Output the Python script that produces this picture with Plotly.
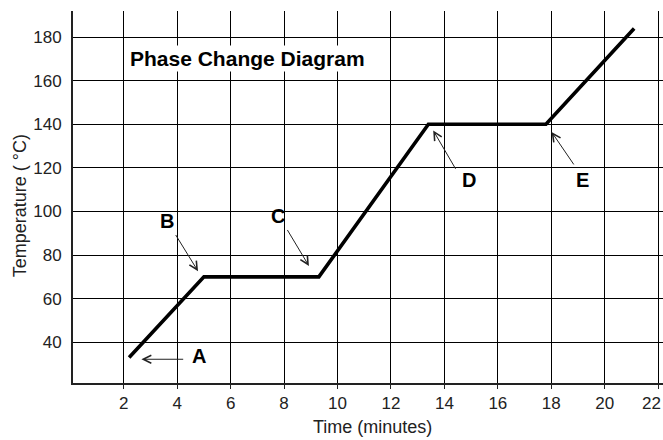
import plotly.graph_objects as go

# Data
time_min = [2.2, 5.0, 9.3, 13.4, 17.8, 21.1]
temp_c = [33, 70, 70, 140, 140, 184]

x_ticks = [2, 4, 6, 8, 10, 12, 14, 16, 18, 20, 22]
y_ticks = [40, 60, 80, 100, 120, 140, 160, 180]

point_labels = ["A", "B", "C", "D", "E"]
label_x = [4.81, 3.60, 7.79, 14.91, 19.16]
label_y = [33.7, 95.8, 97.9, 114.3, 114.3]
arrow_tail_x = [4.28, 3.91, 8.09, 14.45, 18.88]
arrow_tail_y = [32.2, 89.9, 92.2, 118.9, 120.9]
arrow_head_x = [2.66, 4.78, 8.93, 13.58, 18.01]
arrow_head_y = [32.2, 72.6, 75.0, 137.2, 136.5]

chart_title = "Phase Change Diagram"
x_title = "Time (minutes)"
y_title = "Temperature ( °C)"

FONT = "Liberation Sans, Arial, sans-serif"

fig = go.Figure()
fig.add_trace(go.Scatter(
    x=time_min, y=temp_c, mode="lines",
    line=dict(color="black", width=3.6),
    hoverinfo="skip", showlegend=False,
))

annotations = []
# title box
annotations.append(dict(
    x=6.63, y=170.1, xref="x", yref="y", text="<b>" + chart_title + "</b>",
    showarrow=False, font=dict(family=FONT, size=21, color="black"),
    bgcolor="white", borderpad=1, xanchor="center", yanchor="middle",
))
for lab, lx, ly in zip(point_labels, label_x, label_y):
    annotations.append(dict(
        x=lx, y=ly, xref="x", yref="y", text="<b>" + lab + "</b>",
        showarrow=False, font=dict(family=FONT, size=20, color="black"),
        xanchor="center", yanchor="middle",
    ))
for tx, ty, hx, hy in zip(arrow_tail_x, arrow_tail_y, arrow_head_x, arrow_head_y):
    annotations.append(dict(
        x=hx, y=hy, xref="x", yref="y", ax=tx, ay=ty, axref="x", ayref="y",
        text="", showarrow=True, arrowhead=5, arrowsize=1.6, arrowwidth=1,
        arrowcolor="#222", standoff=0, startstandoff=0,
    ))
# last x tick label sits at the right edge: keep it fully inside the page
annotations.append(dict(
    x=1.0, y=-0.0546, xref="paper", yref="paper", text=str(x_ticks[-1]),
    showarrow=False, font=dict(family=FONT, size=17, color="#222"),
    xanchor="right", yanchor="middle",
))
# axis titles
annotations.append(dict(
    x=11.3, y=-0.118, xref="x", yref="paper", text=x_title, showarrow=False,
    font=dict(family=FONT, size=18, color="#222"), xanchor="center", yanchor="middle",
))
annotations.append(dict(
    x=-0.0898, y=102.4, xref="paper", yref="y", text=y_title, showarrow=False,
    textangle=-90, font=dict(family=FONT, size=18, color="#222"),
    xanchor="center", yanchor="middle",
))

fig.update_layout(
    width=663, height=440,
    margin=dict(l=73, r=0, t=11, b=57, autoexpand=False),
    paper_bgcolor="white", plot_bgcolor="white",
    font=dict(family=FONT, size=17, color="#222"),
    annotations=annotations,
    showlegend=False,
)
fig.update_xaxes(
    range=[0.1, 22.18], tickvals=x_ticks,
    ticktext=[str(v) for v in x_ticks[:-1]] + [""],
    showgrid=True, gridcolor="black", gridwidth=1,
    showline=True, linecolor="#222", linewidth=2,
    ticks="outside", ticklen=4, tickwidth=1, tickcolor="#222",
    ticklabeloverflow="allow", automargin=False,
    zeroline=False, tickfont=dict(family=FONT, size=17, color="#222"),
)
fig.update_yaxes(
    range=[21.3, 192], tickvals=y_ticks, ticktext=[str(v) for v in y_ticks],
    showgrid=True, gridcolor="black", gridwidth=1,
    showline=True, linecolor="#222", linewidth=2,
    ticks="", ticklabelstandoff=6, automargin=False,
    zeroline=False, tickfont=dict(family=FONT, size=17, color="#222"),
)

fig.write_html(
    "out.html",
    config={"displayModeBar": False},
    post_script="document.body.style.margin='0';document.body.style.overflow='hidden';",
)
